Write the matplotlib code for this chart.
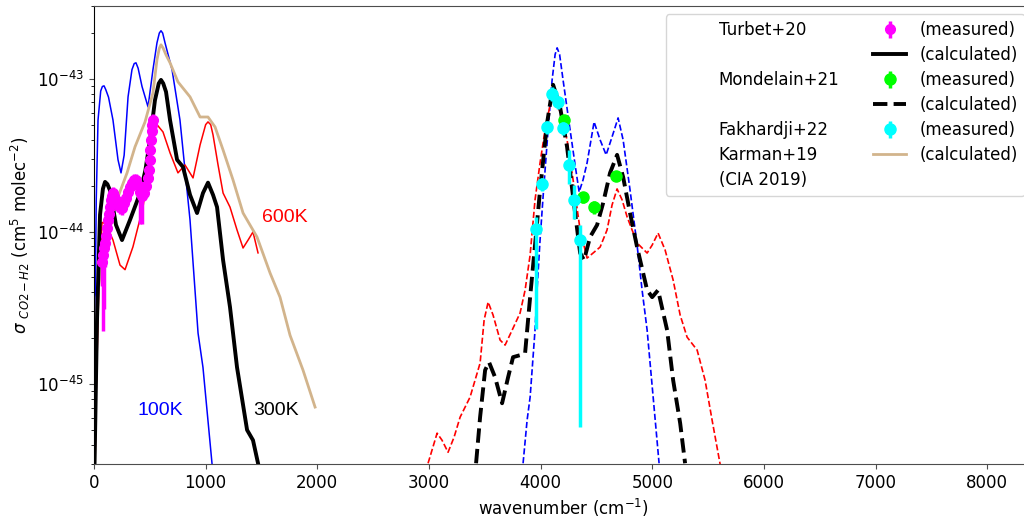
import numpy as np
import matplotlib
matplotlib.use("Agg")
import matplotlib.pyplot as plt
from matplotlib.lines import Line2D
from matplotlib.ticker import NullFormatter, FixedLocator

# ---------------- data (wavenumber in cm-1, log10 of sigma) ----------------
# Left band, solid lines (calculated, Turbet+20)
wn_100K = [3, 10, 20, 36, 60, 75, 90, 105, 130, 170, 215, 242, 270, 305, 340, 360, 376, 395, 430,
           484, 528, 564, 585, 600, 615, 636, 699, 770, 860, 932, 976, 1057]
lg_100K = [-45.52, -44.5, -43.8, -43.27, -43.08, -43.05, -43.046, -43.07, -43.12, -43.27, -43.53,
           -43.616, -43.5, -43.118, -42.94, -42.9, -42.895, -42.93, -43.05, -43.184, -42.94,
           -42.764, -42.7, -42.685, -42.7, -42.764, -42.94, -43.27, -43.925, -44.666, -44.89,
           -45.52]

wn_300K = [5, 27, 54, 80, 99, 120, 143, 197, 251, 322, 412, 460, 502, 546, 580, 600, 620, 645,
           681, 744, 797, 860, 923, 976, 1021, 1066, 1102, 1156, 1218, 1281, 1371, 1424, 1469]
lg_300K = [-45.52, -44.58, -43.89, -43.72, -43.675, -43.69, -43.73, -43.957, -44.056, -43.925,
           -43.75, -43.6, -43.4, -43.14, -43.03, -43.007, -43.03, -43.085, -43.27, -43.53,
           -43.577, -43.76, -43.879, -43.748, -43.68, -43.76, -43.84, -44.187, -44.495, -44.89,
           -45.30, -45.367, -45.518]

wn_600K = [10, 18, 45, 72, 107, 170, 233, 278, 349, 439, 484, 520, 564, 618, 681, 752, 815, 887,
           950, 1000, 1021, 1045, 1066, 1111, 1156, 1218, 1281, 1335, 1380, 1424, 1469]
lg_600K = [-45.52, -45.1, -44.32, -43.94, -43.95, -44.056, -44.22, -44.25, -44.10, -43.84, -43.6,
           -43.38, -43.30, -43.348, -43.485, -43.616, -43.564, -43.649, -43.433, -43.3, -43.282,
           -43.3, -43.367, -43.564, -43.748, -43.84, -43.99, -44.108, -44.056, -44.003, -44.14]

# Karman+19 (CIA 2019)
wn_cia = [5, 15, 27, 81, 188, 296, 367, 457, 528, 564, 585, 600, 620, 645, 681, 752, 860, 950,
          1021, 1084, 1156, 1245, 1335, 1460, 1577, 1666, 1756, 1872, 1980]
lg_cia = [-45.52, -44.9, -44.43, -44.167, -43.826, -43.616, -43.446, -43.282, -43.092, -42.875,
          -42.8, -42.777, -42.8, -42.843, -42.895, -43.02, -43.118, -43.25, -43.25, -43.315,
          -43.466, -43.662, -43.879, -44.036, -44.272, -44.43, -44.68, -44.908, -45.15]

# Turbet+20 measured
wn_turbet = [72, 81, 90, 99, 107, 116, 125, 134, 143, 152, 161, 170, 179, 197, 215, 233, 251, 269,
             287, 305, 322, 340, 358, 376, 394, 412, 430, 448, 466, 484, 493, 502, 506, 511, 515,
             520, 528]
lg_turbet = [-44.2, -44.154, -44.108, -44.075, -44.03, -43.977, -43.925, -43.885, -43.84, -43.793,
             -43.767, -43.748, -43.767, -43.793, -43.826, -43.84, -43.846, -43.813, -43.78, -43.741,
             -43.708, -43.682, -43.662, -43.662, -43.695, -43.741, -43.767, -43.748, -43.702,
             -43.649, -43.597, -43.531, -43.466, -43.4, -43.341, -43.3, -43.269]
relerr_lo_turbet = [0.3, 0.68, 0.6, 0.3, 0.2, 0.1, 0.1, 0.1, 0.1, 0.1, 0.1, 0.1, 0.1, 0.1, 0.1,
                    0.1, 0.1, 0.1, 0.1, 0.1, 0.1, 0.1, 0.1, 0.1, 0.1, 0.38, 0.35, 0.1, 0.1, 0.1,
                    0.1, 0.1, 0.1, 0.1, 0.1, 0.1, 0.1]
relerr_hi_turbet = [0.1] * len(wn_turbet)

# Right band, dashed lines (calculated, Mondelain+21)
wn_100K_b = [3843, 3879, 3906, 3950, 3968, 3995, 4022, 4067, 4103, 4130, 4148, 4170, 4201, 4264,
             4309, 4345, 4380, 4416, 4479, 4533, 4587, 4640, 4694, 4739, 4801, 4864, 4909, 4954,
             5008, 5061]
lg_100K_b = [-45.518, -45.236, -45.085, -44.646, -44.384, -44.056, -43.774, -43.334, -43.007,
             -42.84, -42.797, -42.84, -43.007, -43.334, -43.564, -43.741, -43.662, -43.551,
             -43.282, -43.4, -43.498, -43.38, -43.256, -43.4, -43.728, -44.089, -44.384, -44.646,
             -45.085, -45.518]

wn_300K_b = [3422, 3458, 3503, 3538, 3592, 3655, 3709, 3753, 3816, 3861, 3906, 3950, 3995, 4058,
             4112, 4174, 4237, 4291, 4354, 4389, 4443, 4506, 4560, 4622, 4685, 4739, 4801, 4864,
             4954, 4999, 5052, 5133, 5187, 5250, 5294]
lg_300K_b = [-45.518, -45.216, -44.908, -44.856, -44.954, -45.125, -44.954, -44.823, -44.81,
             -44.797, -44.43, -44.089, -43.728, -43.289, -43.039, -43.184, -43.446, -43.774,
             -44.141, -44.187, -44.036, -43.957, -43.813, -43.616, -43.498, -43.643, -43.879,
             -44.102, -44.384, -44.43, -44.384, -44.646, -44.974, -45.256, -45.518]

wn_600K_b = [2992, 3073, 3117, 3171, 3225, 3279, 3368, 3458, 3494, 3530, 3574, 3637, 3682, 3745,
             3816, 3861, 3906, 3950, 3995, 4040, 4085, 4130, 4183, 4237, 4291, 4354, 4416, 4470,
             4533, 4595, 4640, 4685, 4730, 4775, 4864, 4954, 4999, 5052, 5115, 5187, 5250, 5312,
             5402, 5473, 5536, 5608]
lg_600K_b = [-45.518, -45.321, -45.367, -45.446, -45.347, -45.216, -45.085, -44.862, -44.58,
             -44.462, -44.547, -44.711, -44.744, -44.646, -44.534, -44.384, -44.154, -43.793,
             -43.551, -43.334, -43.17, -43.125, -43.236, -43.4, -43.662, -43.99, -44.174, -44.141,
             -44.102, -43.99, -43.826, -43.721, -43.793, -43.905, -44.075, -44.141, -44.089,
             -44.01, -44.121, -44.318, -44.548, -44.692, -44.777, -44.974, -45.236, -45.525]

# Mondelain+21 measured
wn_mondelain = [4210, 4380, 4479, 4676]
lg_mondelain = [-43.269, -43.774, -43.839, -43.636]
relerr_mondelain = [0.08, 0.08, 0.1, 0.08]

# Fakhardji+22 measured
wn_fakhardji = [3959, 4013, 4058, 4103, 4156, 4201, 4255, 4300, 4354]
lg_fakhardji = [-43.984, -43.689, -43.315, -43.098, -43.151, -43.321, -43.564, -43.793, -44.056]
relerr_lo_fakhardji = [0.78, 0.1, 0.1, 0.1, 0.1, 0.1, 0.25, 0.25, 0.94]
relerr_hi_fakhardji = [0.2, 0.1, 0.1, 0.1, 0.1, 0.1, 0.25, 0.25, 0.25]

temp_labels = ["100K", "300K", "600K"]
temp_label_wn = [596, 1630, 1711]
temp_label_lg = [-45.17, -45.17, -43.905]
temp_colors = ["blue", "black", "red"]

xticks = [0, 1000, 2000, 3000, 4000, 5000, 6000, 7000, 8000]
yticks = [1e-45, 1e-44, 1e-43]


def v(lst):
    return 10.0 ** np.asarray(lst, dtype=float)


def yerr(lg, lo, hi):
    val = v(lg)
    return np.vstack([val * np.asarray(lo), val * np.asarray(hi)])


# ---------------- figure ----------------
fig = plt.figure(figsize=(10.24, 5.18), dpi=100)
ax = fig.add_axes([94 / 1024, 54 / 518, 939 / 1024, 458 / 518])

ax.plot(wn_100K, v(lg_100K), color="blue", lw=1.1)
ax.plot(wn_600K, v(lg_600K), color="red", lw=1.1)
ax.plot(wn_cia, v(lg_cia), color="tan", lw=2.0)
l300, = ax.plot(wn_300K, v(lg_300K), color="black", lw=2.8)

ax.plot(wn_100K_b, v(lg_100K_b), color="blue", lw=1.2, ls="--")
ax.plot(wn_600K_b, v(lg_600K_b), color="red", lw=1.2, ls="--")
l300b, = ax.plot(wn_300K_b, v(lg_300K_b), color="black", lw=2.8, ls="--")

e_t = ax.errorbar(wn_turbet, v(lg_turbet),
                  yerr=yerr(lg_turbet, relerr_lo_turbet, relerr_hi_turbet),
                  fmt="o", color="magenta", ms=7, elinewidth=2.5, zorder=5)
e_m = ax.errorbar(wn_mondelain, v(lg_mondelain),
                  yerr=yerr(lg_mondelain, relerr_mondelain, relerr_mondelain),
                  fmt="o", color="lime", ms=8, elinewidth=2.5, zorder=5)
e_f = ax.errorbar(wn_fakhardji, v(lg_fakhardji),
                  yerr=yerr(lg_fakhardji, relerr_lo_fakhardji, relerr_hi_fakhardji),
                  fmt="o", color="cyan", ms=8, elinewidth=2.5, zorder=6)

for t, x, y, c in zip(temp_labels, temp_label_wn, temp_label_lg, temp_colors):
    ax.text(x, 10.0 ** y, t, color=c, fontsize=14, family="Liberation Sans",
            ha="center", va="center")

ax.set_yscale("log")
ax.set_xlim(0, 8410)
ax.set_ylim(3e-46, 3e-43)
ax.set_xticks(xticks)
ax.yaxis.set_major_locator(FixedLocator(yticks))
ax.yaxis.set_minor_formatter(NullFormatter())
ax.tick_params(labelsize=12, colors="0.3", labelcolor="black")
ax.set_xlabel(r"wavenumber (cm$^{-1}$)", fontsize=12)
ax.set_ylabel(r"$\sigma$ $_{CO2-H2}$ (cm$^5$ molec$^{-2}$)", fontsize=12)
for s in ["top", "bottom", "right"]:
    ax.spines[s].set_color("0.3")
ax.spines["left"].set_color("black")

blank = Line2D([], [], ls="none")
ltan = Line2D([], [], color="tan", lw=2.0)
handles = [blank, blank, blank, blank, blank, blank, blank,
           e_t, l300, e_m, l300b, e_f, ltan]
labels = ["Turbet+20", "", "Mondelain+21", "", "Fakhardji+22", "Karman+19", "(CIA 2019)",
          "(measured)", "(calculated)", "(measured)", "(calculated)", "(measured)", "(calculated)"]
ax.legend(handles, labels, ncol=2, loc="upper right", fontsize=12, labelspacing=0.42)

fig.savefig("out.png", dpi=100)
